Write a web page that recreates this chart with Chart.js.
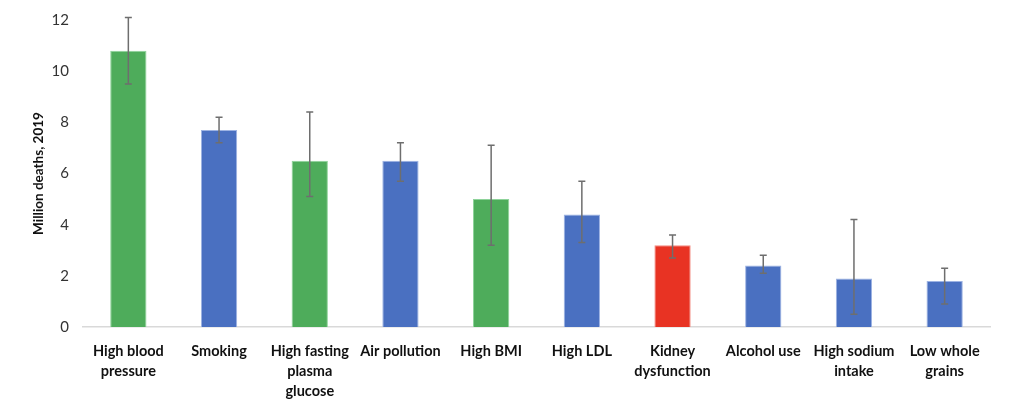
<!DOCTYPE html>
<html>
<head>
<meta charset="utf-8">
<script src="https://cdn.jsdelivr.net/npm/chart.js@4.4.1/dist/chart.umd.min.js"></script>
<style>
  html, body { margin: 0; padding: 0; background: #fff; }
  #wrap { width: 1024px; height: 412px; position: relative; }
</style>
</head>
<body>
<div id="wrap"><canvas id="riskChart"></canvas></div>
<script>
// Risk factors, million deaths in 2019
const categories = [
  ['High blood', 'pressure'],
  ['Smoking'],
  ['High fasting', 'plasma', 'glucose'],
  ['Air pollution'],
  ['High BMI'],
  ['High LDL'],
  ['Kidney', 'dysfunction'],
  ['Alcohol use'],
  ['High sodium', 'intake'],
  ['Low whole', 'grains']
];
const deaths = [10.8, 7.7, 6.5, 6.5, 5.0, 4.4, 3.2, 2.4, 1.9, 1.8];
const errLow = [9.5, 7.2, 5.1, 5.7, 3.2, 3.3, 2.7, 2.1, 0.5, 0.9];
const errHigh = [12.1, 8.2, 8.4, 7.2, 7.1, 5.7, 3.6, 2.8, 4.2, 2.3];
const barGroup = ['metabolic', 'other', 'metabolic', 'other', 'metabolic', 'other', 'kidney', 'other', 'other', 'other'];
const yTicks = [0, 2, 4, 6, 8, 10, 12];

const fills = { metabolic: '#4EAC5B', other: '#4A70C1', kidney: '#E83323' };
const edges = { metabolic: '#8ED39A', other: '#9DB3E3', kidney: '#F28A80' };

// draws whiskers from errLow/errHigh on top of the bars
const errorBars = {
  id: 'errorBars',
  afterDatasetsDraw(chart) {
    const { ctx } = chart;
    const y = chart.scales.y;
    const meta = chart.getDatasetMeta(0);
    ctx.save();
    ctx.strokeStyle = '#6E6E6E';
    ctx.lineWidth = 1.5;
    meta.data.forEach((bar, i) => {
      const x = bar.x;
      const top = y.getPixelForValue(errHigh[i]);
      const bot = y.getPixelForValue(errLow[i]);
      ctx.beginPath();
      ctx.moveTo(x, top);
      ctx.lineTo(x, bot);
      ctx.moveTo(x - 3.5, top);
      ctx.lineTo(x + 3.5, top);
      ctx.moveTo(x - 3.5, bot);
      ctx.lineTo(x + 3.5, bot);
      ctx.stroke();
    });
    ctx.restore();
  }
};

new Chart(document.getElementById('riskChart'), {
  type: 'bar',
  data: {
    labels: categories,
    datasets: [{
      data: deaths,
      backgroundColor: barGroup.map(g => fills[g]),
      borderColor: barGroup.map(g => edges[g]),
      borderWidth: 1,
      barPercentage: 0.4,
      categoryPercentage: 1
    }]
  },
  options: {
    responsive: true,
    maintainAspectRatio: false,
    animation: false,
    layout: { padding: { top: 20, right: 34, left: 0, bottom: 0 } },
    plugins: {
      legend: { display: false },
      tooltip: { enabled: false }
    },
    scales: {
      x: {
        grid: { display: false },
        border: { display: true, color: '#D9D9D9', width: 1.5 },
        ticks: {
          color: '#111',
          maxRotation: 0,
          autoSkip: false,
          padding: 6,
          font: { family: 'Lato', size: 14.5, weight: 'bold', lineHeight: 1.4 }
        },
        afterFit: s => { s.height = 85; }
      },
      y: {
        min: 0,
        max: 12,
        afterBuildTicks: s => { s.ticks = yTicks.map(v => ({ value: v })); },
        grid: { display: false },
        border: { display: false },
        ticks: {
          color: '#333',
          padding: 6,
          font: { family: 'Lato', size: 15 }
        },
        title: {
          display: true,
          text: 'Million deaths, 2019',
          color: '#111',
          padding: { top: 31, bottom: 0 },
          font: { family: 'Lato', size: 13.5, weight: 'bold' }
        },
        afterFit: s => { s.width = 83; }
      }
    }
  },
  plugins: [errorBars]
});
</script>
</body>
</html>
